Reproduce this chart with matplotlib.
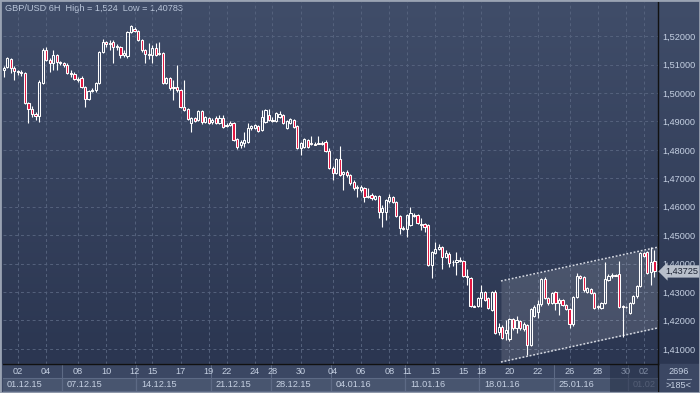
import numpy as np
import matplotlib
matplotlib.use("Agg")
import matplotlib.pyplot as plt
from matplotlib.patches import Rectangle
from matplotlib.colors import LinearSegmentedColormap

plt.rcParams['font.family'] = ['Liberation Sans', 'DejaVu Sans']

# ---------------- data (GBP/USD, 6H candles) ----------------
opens = [1.5081, 1.5091, 1.5119, 1.5088, 1.5077, 1.5074, 1.5070, 1.4964, 1.4943, 1.4926,
         1.4919, 1.5035, 1.5151, 1.5116, 1.5105, 1.5133, 1.5109, 1.5105, 1.5098, 1.5070,
         1.5067, 1.5049, 1.5052, 1.5021, 1.4978, 1.5007, 1.5010, 1.5035, 1.5144, 1.5179,
         1.5172, 1.5179, 1.5161, 1.5161, 1.5133, 1.5130, 1.5214, 1.5225, 1.5218, 1.5186,
         1.5151, 1.5137, 1.5133, 1.5158, 1.5137, 1.5140, 1.5035, 1.5052, 1.5021, 1.5021,
         1.5010, 1.4950, 1.4943, 1.4894, 1.4912, 1.4905, 1.4936, 1.4898, 1.4912, 1.4898,
         1.4912, 1.4894, 1.4912, 1.4887, 1.4887, 1.4894, 1.4838, 1.4817, 1.4824, 1.4827,
         1.4877, 1.4877, 1.4884, 1.4870, 1.4898, 1.4922, 1.4905, 1.4901, 1.4915, 1.4922,
         1.4877, 1.4894, 1.4905, 1.4884, 1.4806, 1.4810, 1.4834, 1.4824, 1.4820, 1.4824,
         1.4824, 1.4827, 1.4796, 1.4736, 1.4718, 1.4767, 1.4715, 1.4722, 1.4711, 1.4687,
         1.4669, 1.4659, 1.4666, 1.4634, 1.4641, 1.4627, 1.4638, 1.4581, 1.4581, 1.4620,
         1.4634, 1.4617, 1.4567, 1.4525, 1.4522, 1.4536, 1.4571, 1.4571, 1.4539, 1.4539,
         1.4536, 1.4395, 1.4437, 1.4452, 1.4459, 1.4423, 1.4434, 1.4406, 1.4406, 1.4409,
         1.4409, 1.4356, 1.4349, 1.4251, 1.4251, 1.4279, 1.4300, 1.4279, 1.4237, 1.4300,
         1.4160, 1.4177, 1.4156, 1.4135, 1.4206, 1.4174, 1.4198, 1.4170, 1.4184, 1.4114,
         1.4216, 1.4230, 1.4258, 1.4346, 1.4279, 1.4262, 1.4300, 1.4262, 1.4272, 1.4255,
         1.4241, 1.4188, 1.4283, 1.4356, 1.4353, 1.4300, 1.4311, 1.4297, 1.4248, 1.4244,
         1.4262, 1.4342, 1.4356, 1.4360, 1.4363, 1.4251, 1.4248, 1.4227, 1.4262, 1.4286,
         1.4321, 1.4437, 1.4441, 1.4370, 1.4409]
closes = [1.5088, 1.5123, 1.5088, 1.5077, 1.5074, 1.5070, 1.4964, 1.4943, 1.4926, 1.4919,
          1.5038, 1.5151, 1.5116, 1.5105, 1.5133, 1.5109, 1.5105, 1.5098, 1.5070, 1.5067,
          1.5049, 1.5045, 1.5021, 1.4978, 1.5007, 1.5010, 1.5035, 1.5144, 1.5179, 1.5172,
          1.5175, 1.5161, 1.5165, 1.5133, 1.5140, 1.5214, 1.5235, 1.5218, 1.5186, 1.5151,
          1.5137, 1.5135, 1.5158, 1.5133, 1.5140, 1.5035, 1.5052, 1.5017, 1.5019, 1.5010,
          1.4950, 1.4940, 1.4908, 1.4912, 1.4901, 1.4936, 1.4898, 1.4915, 1.4894, 1.4905,
          1.4894, 1.4912, 1.4880, 1.4885, 1.4894, 1.4834, 1.4810, 1.4827, 1.4834, 1.4877,
          1.4884, 1.4887, 1.4866, 1.4915, 1.4940, 1.4905, 1.4903, 1.4929, 1.4926, 1.4894,
          1.4901, 1.4908, 1.4880, 1.4806, 1.4824, 1.4838, 1.4810, 1.4822, 1.4818, 1.4822,
          1.4820, 1.4796, 1.4736, 1.4718, 1.4767, 1.4711, 1.4722, 1.4711, 1.4683, 1.4666,
          1.4666, 1.4669, 1.4634, 1.4638, 1.4631, 1.4638, 1.4581, 1.4596, 1.4624, 1.4634,
          1.4617, 1.4567, 1.4525, 1.4523, 1.4571, 1.4578, 1.4567, 1.4543, 1.4537, 1.4529,
          1.4395, 1.4441, 1.4452, 1.4459, 1.4423, 1.4437, 1.4402, 1.4404, 1.4413, 1.4413,
          1.4356, 1.4353, 1.4251, 1.4249, 1.4279, 1.4300, 1.4272, 1.4244, 1.4300, 1.4156,
          1.4177, 1.4139, 1.4167, 1.4206, 1.4174, 1.4202, 1.4174, 1.4188, 1.4114, 1.4241,
          1.4248, 1.4258, 1.4346, 1.4279, 1.4262, 1.4297, 1.4262, 1.4272, 1.4255, 1.4241,
          1.4188, 1.4283, 1.4356, 1.4349, 1.4307, 1.4314, 1.4297, 1.4244, 1.4251, 1.4262,
          1.4346, 1.4356, 1.4360, 1.4358, 1.4248, 1.4249, 1.4246, 1.4262, 1.4286, 1.4321,
          1.4437, 1.4427, 1.4367, 1.4406, 1.43725]
highs = [1.5095, 1.5126, 1.5123, 1.5095, 1.5081, 1.5081, 1.5074, 1.4968, 1.4954, 1.4933,
         1.5045, 1.5158, 1.5161, 1.5123, 1.5151, 1.5137, 1.5112, 1.5109, 1.5105, 1.5081,
         1.5074, 1.5056, 1.5060, 1.5024, 1.5010, 1.5017, 1.5038, 1.5147, 1.5189, 1.5182,
         1.5186, 1.5186, 1.5172, 1.5165, 1.5151, 1.5218, 1.5240, 1.5232, 1.5221, 1.5189,
         1.5154, 1.5175, 1.5168, 1.5175, 1.5179, 1.5144, 1.5056, 1.5056, 1.5045, 1.5098,
         1.5014, 1.5045, 1.4947, 1.4915, 1.4915, 1.4940, 1.4940, 1.4919, 1.4915, 1.4912,
         1.4919, 1.4922, 1.4922, 1.4894, 1.4901, 1.4898, 1.4841, 1.4834, 1.4863, 1.4894,
         1.4887, 1.4891, 1.4887, 1.4940, 1.4943, 1.4943, 1.4915, 1.4933, 1.4936, 1.4926,
         1.4905, 1.4912, 1.4908, 1.4887, 1.4827, 1.4841, 1.4838, 1.4849, 1.4827, 1.4849,
         1.4831, 1.4834, 1.4806, 1.4743, 1.4771, 1.4813, 1.4725, 1.4729, 1.4715, 1.4694,
         1.4676, 1.4676, 1.4669, 1.4666, 1.4648, 1.4641, 1.4641, 1.4606, 1.4627, 1.4645,
         1.4638, 1.4620, 1.4571, 1.4532, 1.4574, 1.4599, 1.4578, 1.4574, 1.4560, 1.4543,
         1.4539, 1.4445, 1.4476, 1.4469, 1.4462, 1.4448, 1.4441, 1.4413, 1.4441, 1.4423,
         1.4413, 1.4381, 1.4353, 1.4255, 1.4283, 1.4325, 1.4304, 1.4283, 1.4304, 1.4307,
         1.4191, 1.4184, 1.4202, 1.4209, 1.4209, 1.4216, 1.4202, 1.4195, 1.4188, 1.4244,
         1.4255, 1.4272, 1.4349, 1.4353, 1.4283, 1.4300, 1.4304, 1.4279, 1.4276, 1.4258,
         1.4244, 1.4286, 1.4367, 1.4360, 1.4356, 1.4318, 1.4314, 1.4300, 1.4255, 1.4265,
         1.4406, 1.4363, 1.4367, 1.4363, 1.4409, 1.4255, 1.4251, 1.4265, 1.4290, 1.4325,
         1.4441, 1.4441, 1.4445, 1.4459, 1.4448]
lows = [1.5056, 1.5088, 1.5070, 1.5045, 1.5063, 1.5060, 1.4961, 1.4894, 1.4915, 1.4905,
        1.4898, 1.5031, 1.5112, 1.5074, 1.5081, 1.5081, 1.5098, 1.5091, 1.5067, 1.5056,
        1.5045, 1.5038, 1.5017, 1.4950, 1.4975, 1.5003, 1.5003, 1.5031, 1.5140, 1.5161,
        1.5151, 1.5105, 1.5151, 1.5123, 1.5126, 1.5123, 1.5211, 1.5214, 1.5182, 1.5144,
        1.5105, 1.5119, 1.5105, 1.5130, 1.5133, 1.5031, 1.5031, 1.5010, 1.4975, 1.5003,
        1.4947, 1.4936, 1.4905, 1.4863, 1.4898, 1.4901, 1.4891, 1.4894, 1.4891, 1.4891,
        1.4891, 1.4891, 1.4877, 1.4880, 1.4884, 1.4831, 1.4803, 1.4806, 1.4810, 1.4824,
        1.4870, 1.4873, 1.4863, 1.4866, 1.4894, 1.4901, 1.4898, 1.4898, 1.4912, 1.4891,
        1.4873, 1.4891, 1.4877, 1.4803, 1.4782, 1.4806, 1.4806, 1.4817, 1.4817, 1.4820,
        1.4817, 1.4792, 1.4732, 1.4694, 1.4715, 1.4708, 1.4659, 1.4704, 1.4676, 1.4659,
        1.4634, 1.4652, 1.4617, 1.4631, 1.4624, 1.4624, 1.4560, 1.4529, 1.4553, 1.4613,
        1.4613, 1.4564, 1.4504, 1.4518, 1.4494, 1.4532, 1.4564, 1.4539, 1.4518, 1.4511,
        1.4392, 1.4349, 1.4434, 1.4448, 1.4381, 1.4420, 1.4388, 1.4392, 1.4360, 1.4406,
        1.4353, 1.4325, 1.4248, 1.4248, 1.4248, 1.4248, 1.4269, 1.4241, 1.4234, 1.4153,
        1.4149, 1.4135, 1.4131, 1.4128, 1.4167, 1.4156, 1.4167, 1.4163, 1.4078, 1.4110,
        1.4213, 1.4209, 1.4251, 1.4276, 1.4255, 1.4258, 1.4237, 1.4220, 1.4251, 1.4237,
        1.4174, 1.4181, 1.4279, 1.4346, 1.4300, 1.4297, 1.4293, 1.4241, 1.4241, 1.4241,
        1.4258, 1.4339, 1.4349, 1.4356, 1.4244, 1.4142, 1.4244, 1.4223, 1.4258, 1.4279,
        1.4318, 1.4423, 1.4363, 1.4325, 1.4353]

price_ticks = [1.41, 1.42, 1.43, 1.44, 1.45, 1.46, 1.47, 1.48, 1.49, 1.50, 1.51, 1.52]
price_labels = ["1,41000", "1,42000", "1,43000", "1,44000", "1,45000", "1,46000",
                "1,47000", "1,48000", "1,49000", "1,50000", "1,51000", "1,52000"]
day_idx = [4, 12, 21, 29, 37, 42, 50, 58, 63, 71, 76, 84, 93, 101, 109, 114, 122, 130,
           135, 143, 151, 160, 168, 176, 181]
day_labels = ["02", "04", "08", "10", "12", "15", "17", "19", "22", "24", "28", "30",
              "04", "06", "08", "11", "13", "15", "18", "20", "22", "26", "28", "30", "02"]
week_idx = [0, 17, 38, 59, 76, 93, 114, 135, 156, 177]
week_labels = ["01.12.15", "07.12.15", "14.12.15", "21.12.15", "28.12.15", "04.01.16",
               "11.01.16", "18.01.16", "25.01.16", "01.02"]
channel_idx = [140.6, 185.0]
channel_upper = [1.4339, 1.4458]
channel_lower = [1.4054, 1.4174]
last_price = 1.43725
last_label = "1,43725"
title = "GBP/USD 6H  High = 1,524  Low = 1,40783"
bars_total = "2696"
bars_visible = ">185<"

# ---------------- figure ----------------
W, H = 700, 393
fig = plt.figure(figsize=(7, 3.93), dpi=100)
fig.patch.set_facecolor('#3a4662')

def fx(x):
    return x / W

def fy(y):
    return 1 - y / H

TXT = '#c5d0e2'
FS = 6.6

# background layer in pixel coordinates
bg = fig.add_axes([0, 0, 1, 1])
bg.set_zorder(-2)
bg.set_axis_off()
bg.set_xlim(0, W)
bg.set_ylim(H, 0)
grad = np.linspace(0, 1, 256)[:, None]
cmap = LinearSegmentedColormap.from_list('g', ['#404d69', '#2b3651'])
bg.imshow(grad, extent=[0, W, 364, 0], cmap=cmap, aspect='auto', zorder=0)
bg.add_patch(Rectangle((0, 364), W, H - 364, color='#3b4763', zorder=1))
bg.text(5, 8.5, title, ha='left', va='center', fontsize=FS, color='#b9c5d9', zorder=3)
# bar counters (bottom-right box)
bg.text(679, 372, bars_total, ha='center', va='center', fontsize=FS, color=TXT, zorder=3)
bg.plot([667, 691], [378.5, 378.5], color='#8e9ab0', lw=0.8, zorder=3)
bg.text(679, 385, bars_visible, ha='center', va='center', fontsize=FS, color=TXT, zorder=3)
bg.plot([658, 658], [364, 393], color='#111111', lw=1.0, zorder=3)

# main price axes
ax = fig.add_axes([fx(3), fy(364), fx(658) - fx(3), fy(2) - fy(364)])
ax.set_facecolor('none')
ax.set_xlim(-0.2, 185.0)
ax.set_ylim(1.4047, 1.5320)

# bottom date strip
bx = fig.add_axes([fx(3), fy(392), fx(658) - fx(3), fy(364) - fy(392)])
bx.set_zorder(-1)
bx.set_facecolor('none')
bx.set_axis_off()
bx.set_xlim(-0.2, 185.0)
bx.set_ylim(28, 0)
week_edges = [-0.7] + [w - 0.5 for w in week_idx[1:]] + [185.2]
for k, lab in enumerate(week_labels):
    a, b = week_edges[k], week_edges[k + 1]
    bx.add_patch(Rectangle((a, 14), b - a, 12.5, facecolor='#48556f',
                           edgecolor='#5d6a85', lw=0.8, zorder=1))
    if k > 0:
        bx.plot([a, a], [0, 28], color='#5d6a85', lw=0.8, zorder=2)
    col = '#7f8ba2' if k == len(week_labels) - 1 else TXT
    bx.text(a + 1.4, 20.3, lab, ha='left', va='center', fontsize=FS, color=col, zorder=3)
# dim scroll region
bx.add_patch(Rectangle((171.3, 0.5), 185.2 - 171.3, 27, facecolor='#1f2940',
                       alpha=0.45, lw=0, zorder=4))

# channel
ax.fill_between(channel_idx, channel_lower, channel_upper, color='white',
                alpha=0.13, lw=0, zorder=1)
for line in (channel_upper, channel_lower):
    ax.plot(channel_idx, line, color='#d5d9e2', lw=1.1, ls=(0, (1.2, 1.2)), zorder=2)

# candles
UP_EDGE = '#ffffff'
DOWN_FACE = '#e3143f'
x = np.arange(len(opens))
for i in x:
    o, c, h, l = opens[i], closes[i], highs[i], lows[i]
    top, bot = max(o, c), min(o, c)
    ax.vlines(i, top, h, color='white', lw=0.8, zorder=3)
    ax.vlines(i, l, bot, color='white', lw=0.8, zorder=3)
    face = 'none' if c >= o else DOWN_FACE
    ax.bar(i, max(top - bot, 0.00005), bottom=bot, width=0.62, facecolor=face,
           edgecolor=UP_EDGE, lw=0.75, zorder=4)

# axes, ticks, grid
ax.yaxis.tick_right()
ax.set_yticks(price_ticks)
ax.set_yticklabels(price_labels)
ax.tick_params(axis='y', length=0, pad=3, labelsize=FS, labelcolor=TXT)
ax.set_xticks(day_idx)
ax.set_xticklabels(day_labels)
ax.tick_params(axis='x', length=0, pad=2.5, labelsize=FS, labelcolor=TXT)
for t in ax.get_xticklabels()[-2:]:
    t.set_color('#7f8ba2')
ax.grid(True, color='#55627d', lw=0.7, ls=(0, (3, 3)), zorder=0)
ax.set_axisbelow(True)
for s in ('top', 'left'):
    ax.spines[s].set_visible(False)
ax.spines['right'].set_color('#111111')
ax.spines['bottom'].set_color('#111111')
ax.spines['right'].set_linewidth(1.0)
ax.spines['bottom'].set_linewidth(1.0)

# last price tag
ax.text(1.0 + 7 / 655, last_price, last_label, transform=ax.get_yaxis_transform(),
        ha='left', va='center', fontsize=FS, color='#1b2233', zorder=6, clip_on=False,
        bbox=dict(boxstyle='larrow,pad=0.18', fc='#b8bfcb', ec='none'))

# outer frame
fig.patches.append(Rectangle((0, 0), 1, 1, transform=fig.transFigure, fill=False,
                             edgecolor='#9aa3b3', lw=2.0))

fig.savefig('out.png', dpi=100, facecolor=fig.get_facecolor())
